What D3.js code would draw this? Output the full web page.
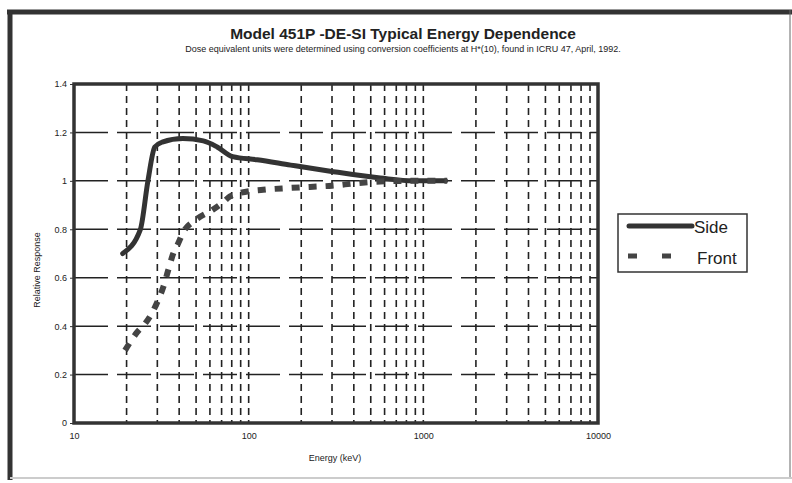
<!DOCTYPE html>
<html>
<head>
<meta charset="utf-8">
<script src="https://cdn.jsdelivr.net/npm/d3@7"></script>
<style>
body { margin: 0; background: #fff; }
text { font-family: "Liberation Sans Narrow", "Liberation Sans", Arial, sans-serif; fill: #222; }
</style>
</head>
<body>
<svg id="chart" width="792" height="483"></svg>
<script>
var sideEnergy = [19, 24, 26.5, 29, 32, 42, 55, 66, 81, 112, 174, 293, 567, 877, 1340];
var sideResp = [0.70, 0.80, 1.0, 1.14, 1.16, 1.175, 1.165, 1.14, 1.10, 1.087, 1.065, 1.04, 1.012, 1.0, 1.0];

var frontEnergy = [19.6, 23, 25.5, 28, 30, 32.4, 34.6, 37, 39.4, 42, 50, 62, 71, 78, 89, 121, 166, 224, 300, 408, 495, 800, 1370];
var frontResp = [0.30, 0.375, 0.41, 0.455, 0.50, 0.56, 0.63, 0.70, 0.74, 0.785, 0.84, 0.88, 0.91, 0.935, 0.95, 0.963, 0.97, 0.975, 0.98, 0.99, 0.995, 1.0, 1.0];

var yTicks = [0, 0.2, 0.4, 0.6, 0.8, 1, 1.2, 1.4];
var xTicks = [10, 100, 1000, 10000];
var seriesNames = ['Side', 'Front'];

var svg = d3.select('#chart');
var ink = '#333';

var x = d3.scaleLog().domain([10, 10000]).range([74, 598]);
var y = d3.scaleLinear().domain([0, 1.4]).range([423, 84]);

// outer frame
svg.append('line').attr('x1', 7).attr('x2', 792).attr('y1', 12).attr('y2', 12)
	.attr('stroke', ink).attr('stroke-width', 5);
svg.append('line').attr('x1', 10).attr('x2', 10).attr('y1', 10).attr('y2', 480)
	.attr('stroke', ink).attr('stroke-width', 5);
svg.append('line').attr('x1', 790).attr('x2', 790).attr('y1', 10).attr('y2', 478)
	.attr('stroke', '#666').attr('stroke-width', 1);
svg.append('line').attr('x1', 10).attr('x2', 792).attr('y1', 478).attr('y2', 478)
	.attr('stroke', '#ccc').attr('stroke-width', 2);

// titles
svg.append('text').attr('x', 403).attr('y', 39).attr('text-anchor', 'middle')
	.style('font-family', 'Liberation Sans, Arial, sans-serif')
	.attr('font-size', 15.5).attr('font-weight', 'bold')
	.text('Model 451P -DE-SI Typical Energy Dependence');
svg.append('text').attr('x', 403).attr('y', 52).attr('text-anchor', 'middle')
	.attr('font-size', 9)
	.text('Dose equivalent units were determined using conversion coefficients at H*(10), found in ICRU 47, April, 1992.');

// vertical grid (minor decades)
var vgrid = [];
[10, 100, 1000].forEach(function(d){
	for (var k = 2; k <= 10; k++) vgrid.push(d * k);
});
vgrid = vgrid.filter(function(d){ return d < 10000; });
svg.append('g').selectAll('line')
	.data(vgrid)
	.enter()
	.append('line')
	.attr('x1', function(d){ return x(d); })
	.attr('x2', function(d){ return x(d); })
	.attr('y1', y(1.4)).attr('y2', y(0))
	.attr('stroke', '#222').attr('stroke-width', 1.6)
	.attr('stroke-dasharray', '7,5');

// horizontal grid
svg.append('g').selectAll('line')
	.data(yTicks.filter(function(d){ return d > 0 && d < 1.4; }))
	.enter()
	.append('line')
	.attr('x1', x(10)).attr('x2', x(10000))
	.attr('y1', function(d){ return y(d); })
	.attr('y2', function(d){ return y(d); })
	.attr('stroke', '#222').attr('stroke-width', 1.5)
	.attr('stroke-dasharray', '34,9');

// plot border
svg.append('rect').attr('x', x(10)).attr('y', y(1.4))
	.attr('width', x(10000) - x(10)).attr('height', y(0) - y(1.4))
	.attr('fill', 'none').attr('stroke', ink).attr('stroke-width', 3.5);

// axes labels
var yAxis = d3.axisLeft(y).tickValues(yTicks).tickSize(4).tickFormat(d3.format('~g'));
var gy = svg.append('g').attr('transform', 'translate(' + x(10) + ',0)').call(yAxis);
gy.select('.domain').remove();
gy.selectAll('line').attr('stroke', ink);
gy.selectAll('text').attr('font-size', 9).attr('fill', '#222')
	.style('font-family', 'Liberation Sans Narrow, Liberation Sans, Arial, sans-serif');

var xAxis = d3.axisBottom(x).tickValues(xTicks).tickSize(0).tickPadding(10).tickFormat(d3.format('d'));
var gx = svg.append('g').attr('transform', 'translate(0,' + y(0) + ')').call(xAxis);
gx.select('.domain').remove();
gx.selectAll('text').attr('font-size', 9).attr('fill', '#222')
	.style('font-family', 'Liberation Sans Narrow, Liberation Sans, Arial, sans-serif');

svg.append('text').attr('x', 335).attr('y', 461).attr('text-anchor', 'middle')
	.attr('font-size', 9).text('Energy (keV)');
svg.append('text').attr('transform', 'translate(40,270) rotate(-90)')
	.attr('text-anchor', 'middle').attr('font-size', 9).text('Relative Response');

// curves
var line = d3.line()
	.x(function(d){ return x(d[0]); })
	.y(function(d){ return y(d[1]); })
	.curve(d3.curveMonotoneX);

var side = d3.zip(sideEnergy, sideResp);
var front = d3.zip(frontEnergy, frontResp);

svg.append('path').datum(side)
	.attr('d', line)
	.attr('fill', 'none').attr('stroke', ink).attr('stroke-width', 5)
	.attr('stroke-linecap', 'round');
svg.append('path').datum(front)
	.attr('d', line)
	.attr('fill', 'none').attr('stroke', '#444').attr('stroke-width', 6)
	.attr('stroke-dasharray', '8,9');

// legend
var lg = svg.append('g');
lg.append('rect').attr('x', 618).attr('y', 214).attr('width', 129).attr('height', 58)
	.attr('fill', '#fff').attr('stroke', ink).attr('stroke-width', 1.5);
lg.append('line').attr('x1', 629).attr('x2', 692).attr('y1', 226).attr('y2', 226)
	.attr('stroke', ink).attr('stroke-width', 5).attr('stroke-linecap', 'round');
lg.append('line').attr('x1', 628).attr('x2', 672).attr('y1', 256).attr('y2', 256)
	.attr('stroke', '#444').attr('stroke-width', 5).attr('stroke-dasharray', '9,25');
lg.selectAll('.lab')
	.data(seriesNames)
	.enter()
	.append('text')
	.attr('class', 'lab')
	.attr('x', function(d, i){ return i ? 697 : 694; })
	.attr('y', function(d, i){ return 233 + i * 31; })
	.attr('font-size', 17)
	.style('font-family', 'Liberation Sans, Arial, sans-serif')
	.text(function(d){ return d; });
</script>
</body>
</html>
